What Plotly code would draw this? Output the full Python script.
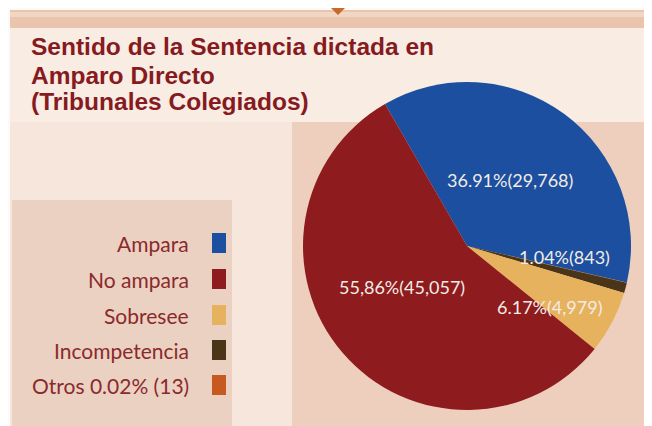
import plotly.graph_objects as go

# ---- data ----
categories = ["Ampara", "No ampara", "Sobresee", "Incompetencia", "Otros"]
counts = [29768, 45057, 4979, 843, 13]
pct_labels = ["36.91%", "55,86%", "6.17%", "1.04%", "0.02%"]
count_labels = ["29,768", "45,057", "4,979", "843", "13"]
legend_labels = ["Ampara", "No ampara", "Sobresee", "Incompetencia", "Otros 0.02% (13)"]
colors = ["#1c4f9f", "#8e1b1d", "#e6b25e", "#4a3519", "#c65a1f"]
title_lines = ["Sentido de la Sentencia dictada en", "Amparo Directo", "(Tribunales Colegiados)"]

# drawing order of slices (clockwise from the blue slice)
pie_order = [0, 4, 3, 2, 1]

# the page body adds an 8px margin; positions below are in window pixels
OFF = 8
FW, FH = 644, 418
def px(x): return (x - OFF) / FW
def py(y): return 1 - (y - OFF) / FH

fig = go.Figure()
fig.add_trace(go.Pie(
    labels=[categories[i] for i in pie_order],
    values=[counts[i] for i in pie_order],
    marker=dict(colors=[colors[i] for i in pie_order], line=dict(width=0)),
    sort=False, direction="clockwise", rotation=-30,
    textinfo="none", hoverinfo="label+value+percent",
    domain=dict(x=[px(303), px(631)], y=[py(410), py(82)]),
    showlegend=False,
))

shapes = []
def rect(x0, y0, x1, y1, color):
    shapes.append(dict(type="rect", xref="paper", yref="paper",
                       x0=px(x0), x1=px(x1), y0=py(y1), y1=py(y0),
                       fillcolor=color, line=dict(width=0), layer="below"))

# background panels
rect(10, 10, 660, 28, "#eac5ad")
rect(10, 12, 660, 17, "#f1d6c4")
rect(10, 28, 660, 122, "#f8ece3")
rect(10, 122, 660, 430, "#eecfbd")
rect(10, 122, 292, 430, "#f6e6dc")
rect(12, 200, 232, 430, "#ebd1c1")
# small triangle marker at top
shapes.append(dict(type="path", xref="paper", yref="paper",
                   path=f"M {px(331)} {py(8)} L {px(345)} {py(8)} L {px(338)} {py(15)} Z",
                   fillcolor="#c8682a", line=dict(width=0)))

annotations = []
# title, one annotation per line for tight line spacing
for line, yc in zip(title_lines, [47, 75, 102]):
    annotations.append(dict(
        text=f"<b>{line}</b>", xref="paper", yref="paper", x=px(29), y=py(yc),
        xanchor="left", yanchor="middle", showarrow=False,
        font=dict(family="Liberation Sans", size=24.5, color="#861a1f"),
    ))

# custom legend: text right-aligned with a square at its right
leg_y = [243, 279, 315, 350, 385]
for lab, col, y in zip(legend_labels, colors, leg_y):
    annotations.append(dict(text=lab, xref="paper", yref="paper", x=px(191), y=py(y),
                            xanchor="right", yanchor="middle", showarrow=False,
                            font=dict(family="Lato", size=21, color="#8a2a2c")))
    shapes.append(dict(type="rect", xref="paper", yref="paper",
                       x0=px(212), x1=px(226), y0=py(y + 10), y1=py(y - 10),
                       fillcolor=col, line=dict(width=0)))

# slice labels
label_pos = {0: (510, 180), 1: (402, 287), 2: (549, 307), 3: (564, 257)}
for i, (x, y) in label_pos.items():
    annotations.append(dict(text=f"{pct_labels[i]}({count_labels[i]})",
                            xref="paper", yref="paper", x=px(x), y=py(y),
                            xanchor="center", yanchor="middle", showarrow=False,
                            font=dict(family="Lato", size=18, color="#f3ece6")))

fig.update_layout(
    width=FW, height=FH, margin=dict(l=0, r=0, t=0, b=0),
    paper_bgcolor="#fdfaf8", plot_bgcolor="rgba(0,0,0,0)",
    shapes=shapes, annotations=annotations,
)
fig.write_html("out.html")
